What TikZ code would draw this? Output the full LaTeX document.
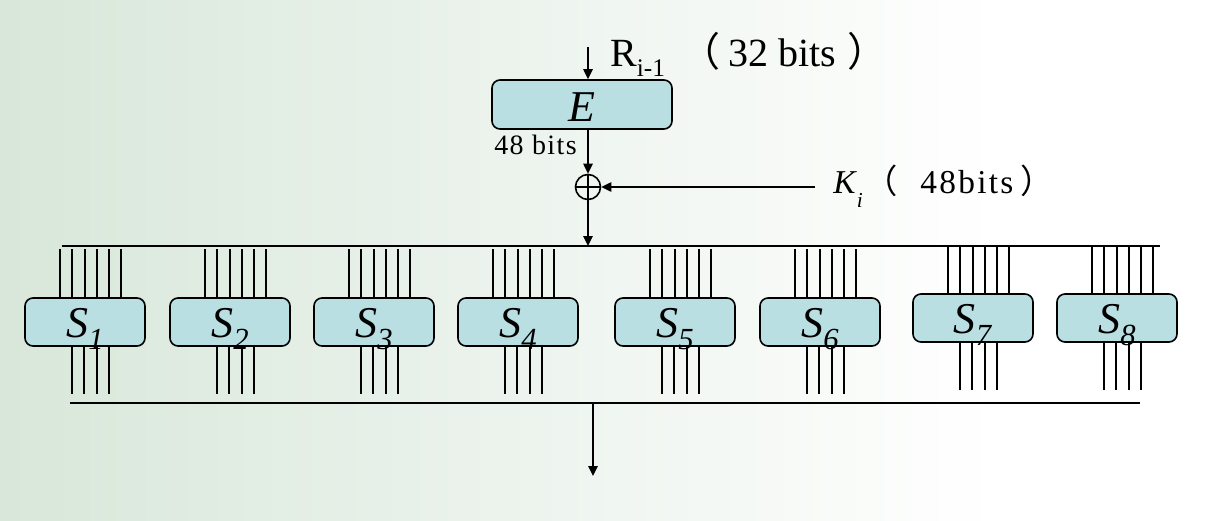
\documentclass[tikz,border=0pt]{standalone}
\usepackage{fontspec}
\setmainfont{Liberation Serif}
\newfontfamily\cjk{Noto Sans CJK SC}
\usetikzlibrary{arrows.meta,calc}
\definecolor{boxblue}{RGB}{185,223,226}
\definecolor{bgl}{RGB}{216,231,218}
\begin{document}
\begin{tikzpicture}[x=0.75pt,y=-0.75pt,
  blk/.style={draw=black,line width=1.2pt,fill=boxblue,rounded corners=6pt,inner sep=0pt},
  sbox/.style={blk,minimum width=90pt,minimum height=36pt,text height=24pt,text depth=1.5pt},
  wire/.style={line width=1.4pt},
  bus/.style={line width=1.8pt},
  arr/.style={line width=1.2pt,-{Triangle[length=7.5pt,width=7pt]}},
  lbl/.style={anchor=base west,inner sep=0pt}]
\useasboundingbox (0,0) rectangle (1222,521);
\shade[left color=bgl,right color=white] (0,0) rectangle (1000,521);
\fill[white] (1000,0) rectangle (1222,521);

% E box
\node[blk,minimum width=135pt,minimum height=36.75pt,text height=26pt,text depth=1.2pt] (E) at (582,104.5)
  {\fontsize{33}{33}\selectfont\itshape E};
\coordinate (Rin) at (588,47);
\draw[arr] (Rin) -- (Rin |- E.north);
\node[lbl] (Rlab) at (610,66) {\fontsize{30}{32}\selectfont R\raisebox{-8pt}{\fontsize{19}{19}\selectfont i-1}};
\node[lbl] (Rbits) at (680,66) {\fontsize{30}{32}\selectfont{\cjk （}\hspace{6pt}32 bits\hspace{8.5pt}{\cjk ）}};
\node[lbl] (b48) at (494,154) {\fontsize{21}{23}\selectfont\addfontfeature{LetterSpace=5}48 bits};

% XOR
\node[circle,draw,line width=1.2pt,minimum size=18.75pt,inner sep=0pt] (X) at (588,187) {};
\draw[line width=1.2pt] (X.north) -- (X.south) (X.west) -- (X.east);
\draw[arr] (Rin |- E.south) -- (X.north);
\coordinate (Kin) at (815,187);
\draw[arr] (Kin) -- (X.east);
\node[lbl] (Klab) at (833,193) {\fontsize{25}{27}\selectfont\textit{K}\raisebox{-10.5pt}{\fontsize{16}{16}\selectfont\textit{i}}};
\node[lbl] (Kbits) at (864,193) {\fontsize{25}{27}\selectfont{\cjk （}\hspace{17pt}{\addfontfeature{LetterSpace=7}48bits}\hspace{5pt}{\cjk ）}};

% buses
\coordinate (TL) at (62,246);
\coordinate (TR) at (1160,246);
\draw[bus] (TL) -- (TR);
\draw[arr] (X.south) -- (X.south |- TL);
\coordinate (BL) at (70,403);
\coordinate (BR) at (1140,403);
\draw[bus] (BL) -- (BR);
\coordinate (Otop) at (593,403);
\coordinate (Obot) at (593,476);
\draw[arr] (Otop) -- (Obot);

% S boxes
\foreach \n/\xl/\yt in {1/25/298,2/170/298,3/314/298,4/458/298,5/615/298,6/760/298,7/913/294,8/1057/294}{
  \node[sbox] (S\n) at (\xl+60,\yt+24)
    {\fontsize{33}{33}\selectfont\textit{S}\raisebox{-9pt}{\fontsize{23}{23}\selectfont\textit{\n}}};
  \foreach \k in {0,...,5}
    \draw[wire] ($(S\n.north west)+(36+12.2*\k,0)$) -- ++(0,-48);
  \foreach \k in {0,...,3}
    \draw[wire] ($(S\n.south west)+(48+12.2*\k,0)$) -- ++(0,47.5);
}
\end{tikzpicture}
\end{document}
